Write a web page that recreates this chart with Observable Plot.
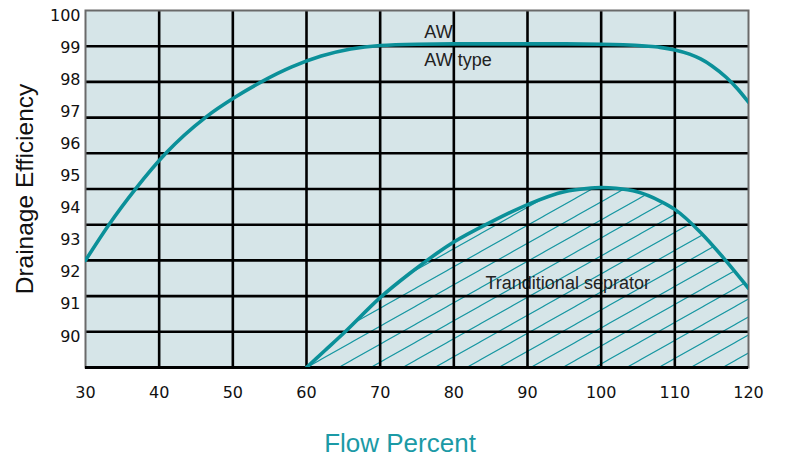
<!DOCTYPE html>
<html>
<head>
<meta charset="utf-8">
<script src="https://cdn.jsdelivr.net/npm/d3@7"></script>
<script src="https://cdn.jsdelivr.net/npm/@observablehq/plot@0.6"></script>
<style>
  html, body { margin: 0; padding: 0; background: #ffffff; }
  svg { display: block; }
</style>
</head>
<body>
<div id="chart"></div>
<script>
// ---- data ----
const xTicks = [30, 40, 50, 60, 70, 80, 90, 100, 110, 120];
const yTicks = [90, 91, 92, 93, 94, 95, 96, 97, 98, 99, 100];

// "AW type" curve
const awFlow = [30, 33.2, 36.8, 40.9, 46.3, 50.4, 54, 58, 62, 66, 70, 75, 80, 85, 90, 95, 100, 103, 106, 108, 110, 112, 113.5, 115, 117, 118.5, 120];
const awEff  = [92.37, 93.49, 94.60, 95.71, 96.83, 97.47, 97.95, 98.40, 98.74, 98.96, 99.07, 99.11, 99.12, 99.12, 99.12, 99.12, 99.11, 99.09, 99.05, 99.01, 98.93, 98.80, 98.65, 98.44, 98.07, 97.72, 97.30];

// "Traditional separator" curve
const sepFlow = [60, 62.5, 65, 70, 74, 80, 85, 90, 95, 98, 100, 102, 105, 108, 110, 113.5, 116.6, 120];
const sepEff  = [89.03, 89.56, 90.09, 91.21, 91.96, 92.94, 93.56, 94.11, 94.51, 94.61, 94.64, 94.62, 94.50, 94.22, 93.96, 93.24, 92.45, 91.50];

// annotations
const noteText = ["AW", "AW type", "Tranditional seprator"];
const noteFlow = [76.0, 76.0, 84.3];
const noteEff  = [99.47, 98.60, 91.67];

// scale extent (as drawn)
const yMin = 89.03, yMax = 100.16;

// ---- tables built from arrays ----
const aw = awFlow.map((x, i) => ({x, y: awEff[i]}));
const sep = sepFlow.map((x, i) => ({x, y: sepEff[i]}));
const notes = noteText.map((t, i) => ({t, x: noteFlow[i], y: noteEff[i]}));
const xGrid = xTicks.slice(1, -1);
const yGrid = d3.range(1, 11).map(i => yMax - i * (yMax - yMin) / 10);

const teal = "#0b9099";
const font = "Liberation Sans, Arial, sans-serif";

const svg = Plot.plot({
  width: 786,
  height: 459,
  marginLeft: 85,
  marginRight: 38,
  marginTop: 10,
  marginBottom: 92,
  style: {fontFamily: "DejaVu Sans, sans-serif", fontSize: "16px", color: "#111", background: "#ffffff", overflow: "visible"},
  x: {domain: [30, 120], ticks: xTicks, tickSize: 0, tickPadding: 19, label: null},
  y: {domain: [yMin, yMax], ticks: yTicks, tickSize: 0, tickPadding: 5, label: null},
  marks: [
    Plot.frame({fill: "#d6e5e8", stroke: "none"}),
    Plot.areaY(sep, {x: "x", y1: yMin, y2: "y", curve: "monotone-x", fill: "url(#hatch)", clip: true}),
    Plot.text(notes, {x: "x", y: "y", text: "t", textAnchor: "start", lineAnchor: "middle", fontSize: 18, fontFamily: font, fill: "#222"}),
    Plot.ruleX(xGrid, {stroke: "#000", strokeWidth: 2.6}),
    Plot.ruleY(yGrid, {stroke: "#000", strokeWidth: 2.6}),
    Plot.frame({stroke: "#6a6a6a", strokeWidth: 2}),
    Plot.ruleY([yMin], {stroke: "#000", strokeWidth: 3}),
    Plot.line(aw, {x: "x", y: "y", curve: "monotone-x", stroke: teal, strokeWidth: 3.6, clip: true}),
    Plot.line(sep, {x: "x", y: "y", curve: "monotone-x", stroke: teal, strokeWidth: 3.6, clip: true}),
    Plot.text(["Flow Percent"], {frameAnchor: "bottom", dx: -17, dy: 76, fontSize: 26, fontFamily: font, fill: "#1b9aa6", lineAnchor: "middle", textAnchor: "middle"}),
    Plot.text(["Drainage Efficiency"], {frameAnchor: "left", dx: -60, rotate: -90, fontSize: 24.5, fontFamily: font, fill: "#111", lineAnchor: "middle", textAnchor: "middle"})
  ]
});

// axis tick label fonts (tick labels are the purely numeric texts)
d3.select(svg).selectAll("text")
  .filter(function() { return /^\d+$/.test(this.textContent.trim()); })
  .attr("font-size", 16)
  .style("font-size", "16px")
  .style("font-family", "DejaVu Sans, sans-serif")
  .attr("fill", "#111");

// hatch pattern for the separator area
const defs = d3.select(svg).insert("defs", ":first-child");
const pat = defs.append("pattern")
  .attr("id", "hatch")
  .attr("patternUnits", "userSpaceOnUse")
  .attr("width", 32)
  .attr("height", 18);
pat.append("path")
  .attr("d", "M-8,22.5L40,-4.5M-8,4.5L8,-4.5M24,22.5L40,13.5")
  .attr("stroke", "#1596a1")
  .attr("stroke-width", 1.1)
  .attr("fill", "none");

document.getElementById("chart").appendChild(svg);
</script>
</body>
</html>
